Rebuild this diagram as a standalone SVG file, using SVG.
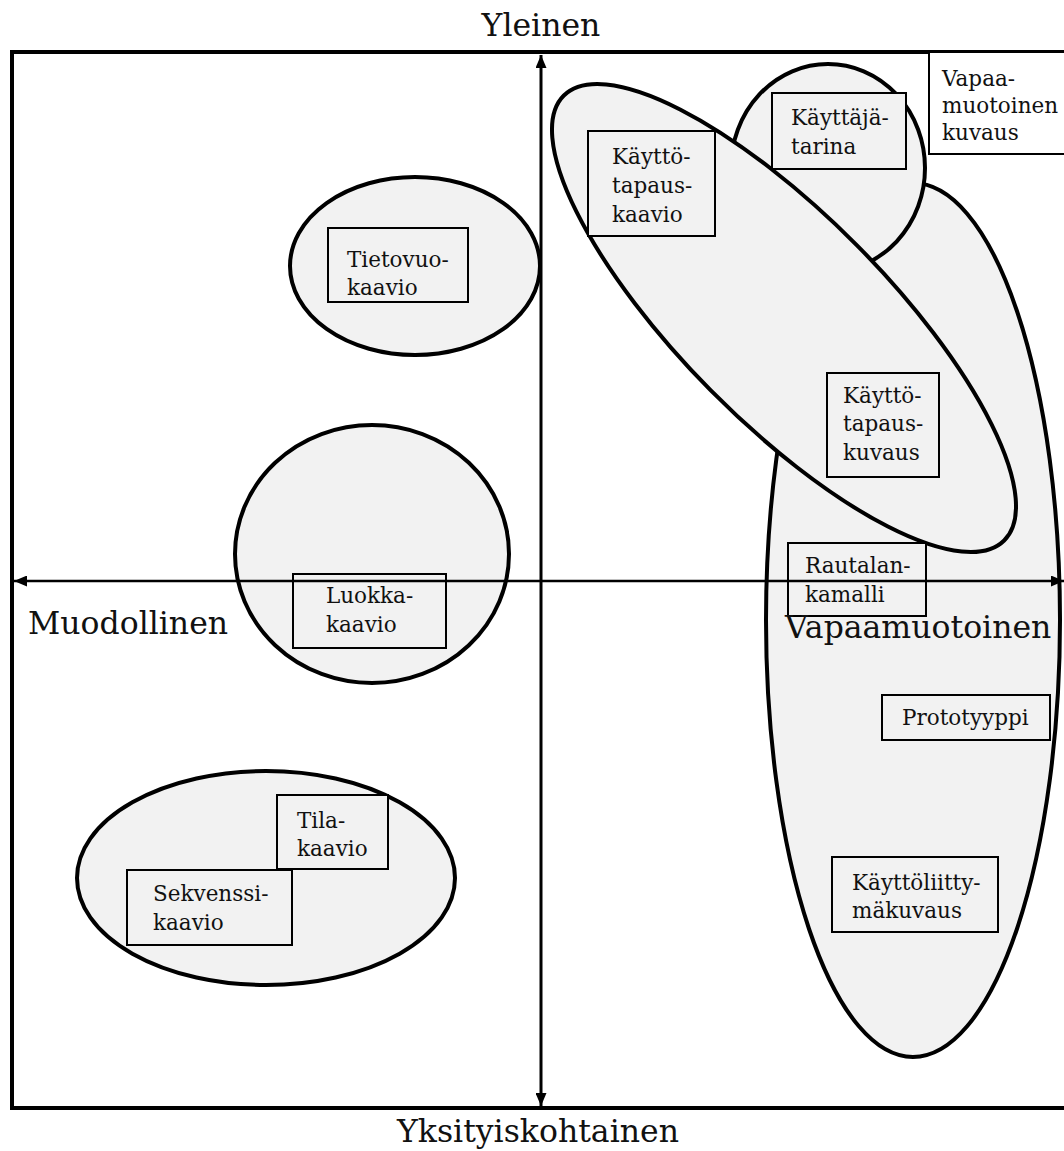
<svg xmlns="http://www.w3.org/2000/svg" width="1064" height="1151" viewBox="0 0 1064 1151">
  <defs>
    <marker id="arrow" viewBox="0 0 13 11" refX="13" refY="5.5" markerWidth="13" markerHeight="11" markerUnits="userSpaceOnUse" orient="auto-start-reverse">
      <path d="M0,0 L13,5.5 L0,11 z" fill="#000"/>
    </marker>
    <style>
      .area { fill: #f2f2f2; stroke: #000; stroke-width: 4; }
      .box { fill: #f2f2f2; stroke: #000; stroke-width: 2; }
      .plain { fill: #fff; stroke: #000; stroke-width: 2; }
      .lbl { font-family: "DejaVu Serif", "Liberation Serif", serif; font-size: 21.5px; fill: #111; }
      .axis-lbl { font-family: "DejaVu Serif", "Liberation Serif", serif; font-size: 31.5px; fill: #111; }
      .axis { stroke: #000; fill: none; }
    </style>
  </defs>

  <rect width="1064" height="1151" fill="#fff"/>

  <!-- outer frame -->
  <rect id="frame" x="12" y="52" width="1060" height="1056" fill="none" stroke="#000" stroke-width="4"/>

  <!-- areas -->
  <g id="area-tietovuo"><ellipse class="area" cx="415" cy="266" rx="125" ry="89"/></g>
  <g id="area-luokka"><ellipse class="area" cx="372" cy="554" rx="137" ry="129"/></g>
  <g id="area-tila"><ellipse class="area" cx="266" cy="878" rx="189" ry="107"/></g>
  <g id="area-vapaamuotoinen"><ellipse class="area" cx="913" cy="620" rx="147" ry="437"/></g>
  <g id="area-kayttaja"><ellipse class="area" cx="828" cy="168" rx="97" ry="104"/></g>
  <g id="area-kayttotapaus"><ellipse class="area" cx="784" cy="318" rx="313" ry="103" transform="rotate(45.3 784 318)"/></g>

  <!-- notations -->
  <g id="node-tietovuokaavio">
    <rect class="box" x="328" y="228" width="140" height="74"/>
    <text class="lbl" x="347" y="267">Tietovuo-</text>
    <text class="lbl" x="347" y="295">kaavio</text>
  </g>
  <g id="node-luokkakaavio">
    <rect class="box" x="293" y="574" width="153" height="74"/>
    <text class="lbl" x="326" y="603">Luokka-</text>
    <text class="lbl" x="326" y="632">kaavio</text>
  </g>
  <g id="node-tilakaavio">
    <rect class="box" x="277" y="795" width="111" height="74"/>
    <text class="lbl" x="297" y="828">Tila-</text>
    <text class="lbl" x="297" y="856">kaavio</text>
  </g>
  <g id="node-sekvenssikaavio">
    <rect class="box" x="127" y="870" width="165" height="75"/>
    <text class="lbl" x="153" y="901">Sekvenssi-</text>
    <text class="lbl" x="153" y="930">kaavio</text>
  </g>
  <g id="node-kayttotapauskaavio">
    <rect class="box" x="588" y="131" width="127" height="105"/>
    <text class="lbl" x="612" y="164">Käyttö-</text>
    <text class="lbl" x="612" y="193">tapaus-</text>
    <text class="lbl" x="612" y="222">kaavio</text>
  </g>
  <g id="node-kayttajatarina">
    <rect class="box" x="772" y="93" width="134" height="76"/>
    <text class="lbl" x="791" y="125">Käyttäjä-</text>
    <text class="lbl" x="791" y="154">tarina</text>
  </g>
  <g id="node-kayttotapauskuvaus">
    <rect class="box" x="827" y="373" width="112" height="104"/>
    <text class="lbl" x="843" y="403">Käyttö-</text>
    <text class="lbl" x="843" y="431">tapaus-</text>
    <text class="lbl" x="843" y="460">kuvaus</text>
  </g>
  <g id="node-rautalankamalli">
    <rect class="box" x="788" y="543" width="138" height="73"/>
    <text class="lbl" x="805" y="573">Rautalan-</text>
    <text class="lbl" x="805" y="602">kamalli</text>
  </g>
  <g id="node-prototyyppi">
    <rect class="box" x="882" y="695" width="168" height="45"/>
    <text class="lbl" x="902" y="725">Prototyyppi</text>
  </g>
  <g id="node-kayttoliittymakuvaus">
    <rect class="box" x="832" y="857" width="166" height="75"/>
    <text class="lbl" x="852" y="890">Käyttöliitty-</text>
    <text class="lbl" x="852" y="918">mäkuvaus</text>
  </g>
  <g id="node-vapaamuotoinen-kuvaus">
    <rect class="plain" x="929" y="52" width="140" height="102"/>
    <text class="lbl" x="942" y="86">Vapaa-</text>
    <text class="lbl" x="942" y="113">muotoinen</text>
    <text class="lbl" x="942" y="140">kuvaus</text>
  </g>

  <!-- axes -->
  <g id="connectors">
    <line class="axis" x1="541" y1="581" x2="541" y2="55" stroke-width="3" marker-end="url(#arrow)"/>
    <line class="axis" x1="541" y1="581" x2="541" y2="1106" stroke-width="3" marker-end="url(#arrow)"/>
    <line class="axis" x1="541" y1="581" x2="14" y2="581" stroke-width="2.5" marker-end="url(#arrow)"/>
    <line class="axis" x1="541" y1="581" x2="1064" y2="581" stroke-width="2.5" marker-end="url(#arrow)"/>
  </g>

  <!-- axis labels -->
  <g id="axis-labels">
    <text class="axis-lbl" x="541" y="36" text-anchor="middle">Yleinen</text>
    <text class="axis-lbl" x="538" y="1142" text-anchor="middle">Yksityiskohtainen</text>
    <text class="axis-lbl" x="28" y="634">Muodollinen</text>
    <text class="axis-lbl" x="785" y="638">Vapaamuotoinen</text>
  </g>
</svg>
